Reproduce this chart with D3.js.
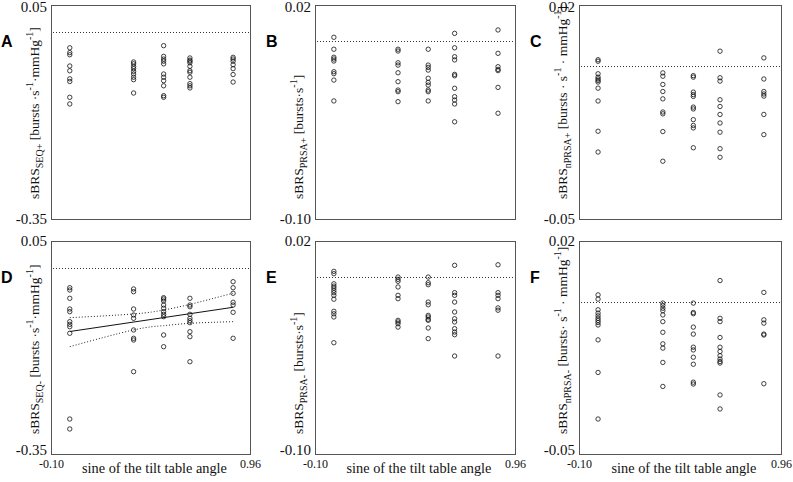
<!DOCTYPE html>
<html><head><meta charset="utf-8">
<script src="https://cdn.jsdelivr.net/npm/d3@7"></script>
<style>body{margin:0;background:#fff}</style>
</head><body><svg id="c" width="793" height="482"></svg>
<script>
// ---- data ----
const sineX = [0.00, 0.34, 0.50, 0.64, 0.87];
const panelLetters = ["A", "B", "C", "D", "E", "F"];
const yDomains = [[-0.35, 0.05], [-0.10, 0.02], [-0.05, 0.02], [-0.35, 0.05], [-0.10, 0.02], [-0.05, 0.02]];
const xTickValues = [-0.10, 0.96];
const xTitle = "sine of the tilt table angle";

const sbrsSeqPlus = [
  [-0.030, -0.039, -0.043, -0.064, -0.073, -0.088, -0.093, -0.1225, -0.135],
  [-0.0565, -0.060, -0.065, -0.069, -0.074, -0.079, -0.085, -0.0896, -0.1145],
  [-0.026, -0.046, -0.051, -0.055, -0.060, -0.079, -0.085, -0.0915, -0.101, -0.1195, -0.1225],
  [-0.049, -0.053, -0.055, -0.058, -0.0646, -0.0728, -0.0758, -0.085, -0.097, -0.101, -0.105],
  [-0.0478, -0.051, -0.055, -0.0616, -0.069, -0.080, -0.094]
];
const sbrsPrsaPlus = [
  [0.0019, -0.0048, -0.0093, -0.0103, -0.0114, -0.0174, -0.0185, -0.0221, -0.0338],
  [-0.0048, -0.0058, -0.0124, -0.0137, -0.018, -0.023, -0.0277, -0.0286, -0.0342],
  [-0.0048, -0.0137, -0.015, -0.0165, -0.0211, -0.0234, -0.0249, -0.0277, -0.0286, -0.0338],
  [0.0041, -0.004, -0.009, -0.0108, -0.0189, -0.0197, -0.0267, -0.0314, -0.0333, -0.0355, -0.0455],
  [0.006, -0.0071, -0.0146, -0.0161, -0.0168, -0.0262, -0.0407]
];
const sbrsNprsaPlus = [
  [0.0021, 0.0016, -0.0025, -0.0036, -0.0042, -0.0047, -0.0052, -0.0072, -0.0114, -0.0213, -0.0281],
  [-0.0022, -0.0033, -0.006, -0.0083, -0.0107, -0.015, -0.0156, -0.0214, -0.0311],
  [-0.0031, -0.0036, -0.0085, -0.0093, -0.0099, -0.0134, -0.014, -0.0175, -0.0194, -0.0202, -0.0267],
  [0.0049, -0.0038, -0.0049, -0.011, -0.0132, -0.0158, -0.0186, -0.0216, -0.027, -0.0298],
  [0.0027, -0.0042, -0.0083, -0.0091, -0.0098, -0.0158, -0.0224]
];
const sbrsSeqMinus = [
  [-0.0377, -0.042, -0.0576, -0.0777, -0.0827, -0.1015, -0.1065, -0.111, -0.1233, -0.2843, -0.303],
  [-0.0401, -0.0452, -0.0777, -0.089, -0.0952, -0.1171, -0.1327, -0.1359, -0.1954],
  [-0.0565, -0.0589, -0.0627, -0.0702, -0.0764, -0.0828, -0.0877, -0.0921, -0.1265, -0.1485],
  [-0.0576, -0.0702, -0.0734, -0.0877, -0.0952, -0.0997, -0.1034, -0.1203, -0.1297, -0.1767],
  [-0.0264, -0.0377, -0.0482, -0.0651, -0.0702, -0.0839, -0.1327]
];
const sbrsPrsaMinus = [
  [0.0029, 0.0016, -0.0041, -0.0054, -0.0065, -0.0078, -0.0091, -0.0106, -0.0128, -0.0196, -0.021, -0.0228, -0.0373],
  [-0.0003, -0.0016, -0.0027, -0.0059, -0.0106, -0.0125, -0.0247, -0.0256, -0.0266, -0.0285],
  [-0.0003, -0.0035, -0.0046, -0.0144, -0.0159, -0.0219, -0.0228, -0.0241, -0.0247, -0.029, -0.035],
  [0.0063, -0.0091, -0.0106, -0.0144, -0.02, -0.0238, -0.0256, -0.0294, -0.0313, -0.0328, -0.0448],
  [0.0066, -0.0091, -0.0106, -0.0125, -0.0177, -0.019, -0.0448]
];
const sbrsNprsaMinus = [
  [0.0023, 0.0009, -0.0026, -0.0037, -0.0046, -0.0054, -0.0061, -0.0068, -0.0076, -0.0125, -0.0232, -0.0385],
  [-0.0004, -0.0012, -0.0021, -0.0029, -0.0043, -0.0065, -0.01, -0.0138, -0.0152, -0.0199, -0.0278],
  [-0.0004, -0.0035, -0.0039, -0.0083, -0.0106, -0.0149, -0.0158, -0.0182, -0.0205, -0.0264, -0.027],
  [0.007, -0.0054, -0.0065, -0.0117, -0.0149, -0.0163, -0.0177, -0.0188, -0.0196, -0.0201, -0.0306, -0.0352],
  [0.0031, -0.0059, -0.007, -0.0106, -0.0109, -0.0269]
];
// Panel D regression line and confidence band
const regX = [0.00, 0.87];
const regY = [-0.120, -0.0745];
const ciX = [0.00, 0.34, 0.50, 0.64, 0.87];
const ciUpper = [-0.094, -0.087, -0.0796, -0.069, -0.048];
const ciLower = [-0.1485, -0.117, -0.109, -0.1046, -0.1015];

const panelData = [sbrsSeqPlus, sbrsPrsaPlus, sbrsNprsaPlus, sbrsSeqMinus, sbrsPrsaMinus, sbrsNprsaMinus];
const yTitles = [
  [["sBRS", ""], ["SEQ+", "sub"], [" [bursts ·s", ""], ["-1", "sup"], ["·mmHg", ""], ["-1", "sup"], ["]", ""]],
  [["sBRS", ""], ["PRSA+", "sub"], [" [bursts·s", ""], ["-1", "sup"], ["]", ""]],
  [["sBRS", ""], ["nPRSA+", "sub"], [" [bursts · s", ""], ["-1", "sup"], [" · mmHg", ""], ["-1", "sup"], ["]", ""]],
  [["sBRS", ""], ["SEQ-", "sub"], [" [bursts ·s", ""], ["-1", "sup"], ["·mmHg", ""], ["-1", "sup"], ["]", ""]],
  [["sBRS", ""], ["PRSA-", "sub"], [" [bursts·s", ""], ["-1", "sup"], ["]", ""]],
  [["sBRS", ""], ["nPRSA-", "sub"], [" [bursts· s", ""], ["-1", "sup"], [" · mmHg", ""], ["-1", "sup"], ["]", ""]]
];

// ---- layout ----
const colX = [[51, 250], [315, 515], [579, 781]];
const rowY = [[5, 219], [241, 454]];
const serif = "'Liberation Serif', 'Times New Roman', serif";
const svg = d3.select("#c");

panelData.forEach((cols, i) => {
  const r = Math.floor(i / 3), c = i % 3;
  const [x0, x1] = colX[c], [y0, y1] = rowY[r];
  const x = d3.scaleLinear().domain([-0.10, 0.96]).range([x0, x1]);
  const y = d3.scaleLinear().domain(yDomains[i]).range([y1, y0]);
  const g = svg.append("g");

  // box
  g.append("rect").attr("x", x0 + 0.5).attr("y", y0 + 0.5)
    .attr("width", x1 - x0).attr("height", y1 - y0)
    .attr("fill", "none").attr("stroke", "#555").attr("stroke-width", 1);

  // zero reference line
  g.append("line").attr("x1", x0 + 2).attr("x2", x1 - 1)
    .attr("y1", Math.round(y(0)) + 0.5).attr("y2", Math.round(y(0)) + 0.5)
    .attr("stroke", "#333").attr("stroke-width", 1).attr("stroke-dasharray", "1,2");

  // y axis tick labels
  const ya = g.append("g").attr("transform", `translate(${x0},0)`)
    .call(d3.axisLeft(y).tickValues(yDomains[i].slice().reverse()).tickSize(0).tickPadding(4).tickFormat(v => v.toFixed(2)));
  ya.select(".domain").remove();
  ya.selectAll("text").attr("font-family", serif).attr("font-size", 15).attr("fill", "#111");
  if (r === 0) ya.selectAll("text").filter(d => d === yDomains[i][1]).attr("dy", "0.45em");
  if (r === 1) ya.selectAll("text").filter(d => d === yDomains[i][0]).attr("dy", "0.05em");

  // x axis tick labels (bottom row)
  if (r === 1) {
    const xa = g.append("g").attr("transform", `translate(0,${y1})`)
      .call(d3.axisBottom(x).tickValues(xTickValues).tickSize(0).tickPadding(5).tickFormat(v => v.toFixed(2)));
    xa.select(".domain").remove();
    xa.selectAll("text").attr("font-family", serif).attr("font-size", 12).attr("fill", "#111");
    g.append("text").attr("x", (x0 + x1) / 2 + 4).attr("y", 473)
      .attr("text-anchor", "middle").attr("font-family", serif).attr("font-size", 14.3).attr("fill", "#111")
      .text(xTitle);
  }

  // y title
  const t = g.append("text")
    .attr("transform", `translate(${x0 - 12},${y1 - 20}) rotate(-90)`)
    .attr("font-family", serif).attr("font-size", 13.5).attr("fill", "#111");
  let shift = 0;
  yTitles[i].forEach(([s, kind]) => {
    const target = kind === "sub" ? 4 : kind === "sup" ? -6 : 0;
    t.append("tspan").attr("dy", target - shift)
      .attr("font-size", kind ? 10 : 13.5).text(s);
    shift = target;
  });

  // panel letter
  svg.append("text").attr("x", c === 0 ? 1 : colX[c][0] - 49).attr("y", y0 + 42)
    .attr("font-family", "'Liberation Sans', Arial, sans-serif").attr("font-weight", "bold")
    .attr("font-size", 16).attr("fill", "#000").text(panelLetters[i]);

  // points
  const pts = [];
  cols.forEach((vals, k) => vals.forEach(v => pts.push([sineX[k], v])));
  g.selectAll("circle").data(pts).join("circle")
    .attr("cx", d => x(d[0])).attr("cy", d => y(d[1])).attr("r", 2.2)
    .attr("fill", "none").attr("stroke", "#111").attr("stroke-width", 0.8);

  // regression (panel D)
  if (i === 3) {
    const line = d3.line().x(d => x(d[0])).y(d => y(d[1]));
    g.append("path").attr("d", line(regX.map((v, k) => [v, regY[k]])))
      .attr("fill", "none").attr("stroke", "#111").attr("stroke-width", 1);
    const cl = d3.line().x(d => x(d[0])).y(d => y(d[1])).curve(d3.curveNatural);
    [ciUpper, ciLower].forEach(arr => {
      g.append("path").attr("d", cl(ciX.map((v, k) => [v, arr[k]])))
        .attr("fill", "none").attr("stroke", "#222").attr("stroke-width", 1).attr("stroke-dasharray", "1,2");
    });
  }
});
</script></body></html>
